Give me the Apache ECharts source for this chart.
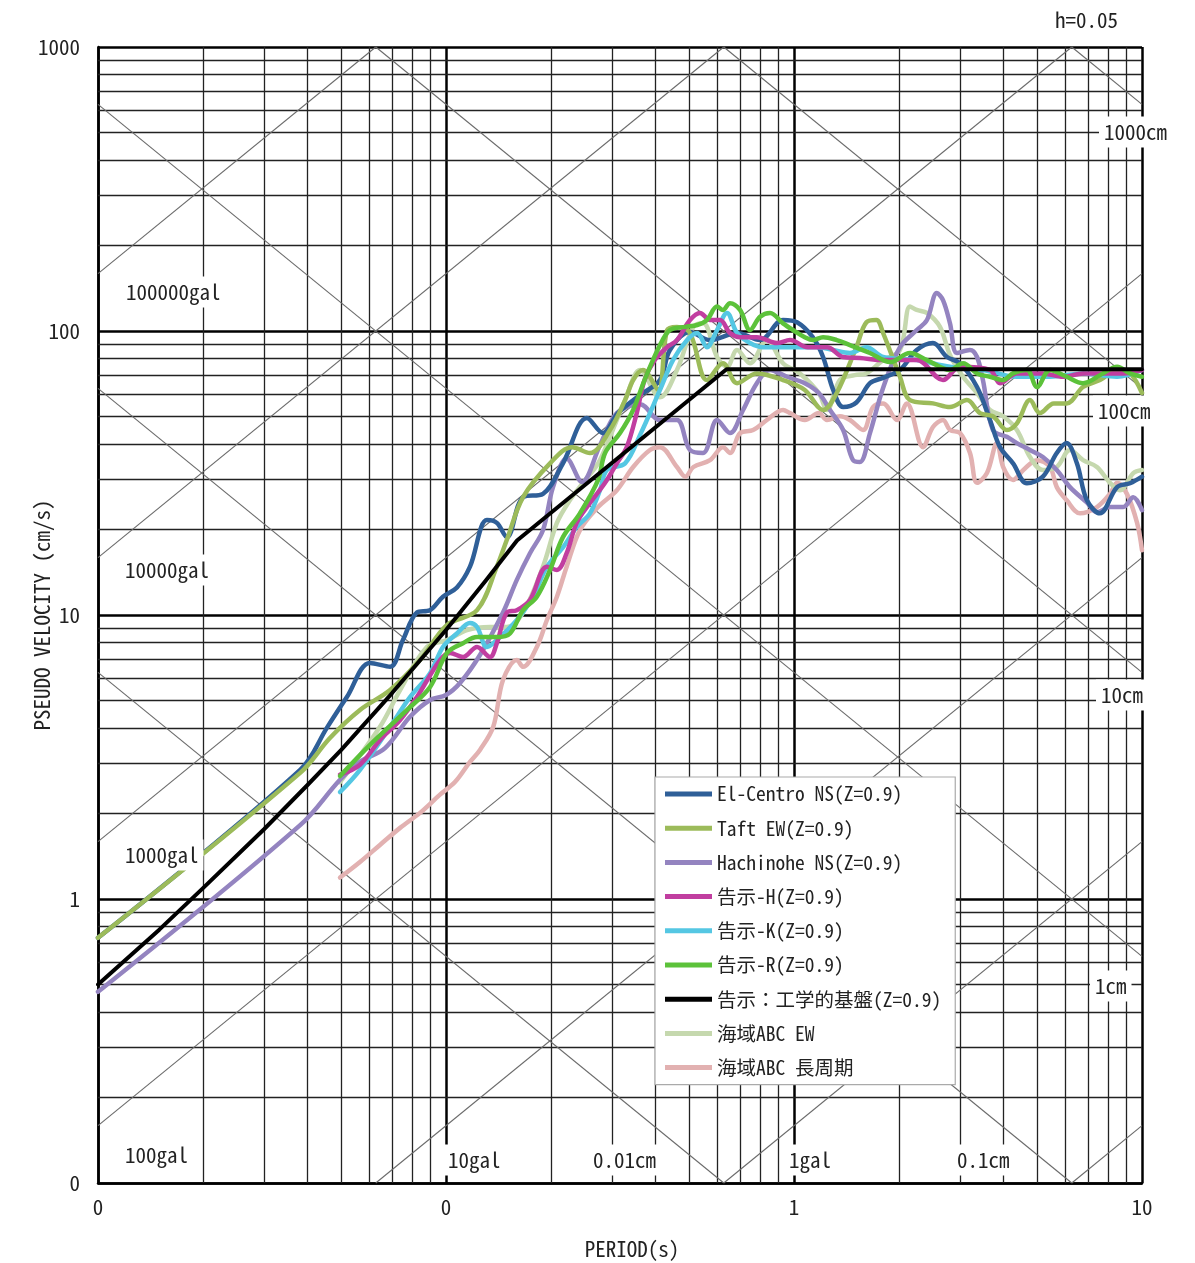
<!DOCTYPE html>
<html><head><meta charset="utf-8">
<script src="https://cdn.jsdelivr.net/npm/echarts@6/dist/echarts.min.js"></script>
<style>html,body{margin:0;padding:0;background:#fff}#c{width:1195px;height:1263px}</style>
</head><body><div id="c"></div>
<script>
// ---------- data: [period T (s), pseudo velocity (cm/s)] ----------
const xTickLabels = ['0', '0', '1', '10'];                 // at T = 0.01, 0.1, 1, 10
const yTickLabels = ['0', '1', '10', '100', '1000'];       // at 0.1 ... 1000
const accelLines = [0.1, 1, 10, 100, 1000, 10000, 100000]; // gal (tripartite grid)
const dispLines = [0.001, 0.01, 0.1, 1, 10, 100, 1000];    // cm  (tripartite grid)
const minorMult = [2, 3, 4, 5, 6, 7, 8, 9];

const elCentroNS = [[0.01,0.73],[0.0381,2.85],[0.0456,4.03],[0.0519,5.14],[0.0605,6.78],[0.0691,6.57],[0.0752,8.16],[0.0825,10.2],[0.09,10.4],[0.098,11.6],[0.1075,12.5],[0.1172,14.8],[0.1311,21.6],[0.14,21.1],[0.1496,18.8],[0.1665,26.0],[0.19,26.7],[0.2168,34.2],[0.2542,49.4],[0.2825,43.7],[0.312,51.4],[0.361,59.5],[0.412,67.2],[0.44,85.7],[0.5025,99.2],[0.5736,92.9],[0.686,98.4],[0.7986,92.9],[0.93,109.3],[1.02,107.3],[1.132,95.1],[1.212,81.0],[1.296,62.0],[1.384,54.0],[1.511,56.0],[1.653,65.5],[1.803,68.4],[2.016,72.9],[2.253,85.7],[2.508,90.7],[2.752,81.0],[2.999,77.0],[3.357,63.5],[3.657,48.6],[3.908,39.0],[4.26,34.2],[4.67,29.1],[5.19,30.7],[5.69,37.2],[6.07,40.3],[6.5,34.2],[6.94,25.4],[7.57,22.8],[8.48,28.2],[9.24,29.1],[10,30.7]];

const taftEW = [[0.01,0.73],[0.0381,2.78],[0.0464,3.69],[0.0566,4.63],[0.0691,5.44],[0.0842,6.94],[0.1007,9.22],[0.1228,10.4],[0.14,14.8],[0.1496,18.4],[0.1665,26.0],[0.199,34.2],[0.2302,39.0],[0.2592,37.2],[0.2959,44.8],[0.327,57.1],[0.345,67.2],[0.368,72.9],[0.407,62.0],[0.432,100.8],[0.461,103.4],[0.5025,98.4],[0.562,67.2],[0.625,77.0],[0.686,65.5],[0.782,70.9],[0.93,67.2],[1.074,62.0],[1.212,52.7],[1.327,60.5],[1.511,87.7],[1.615,107.3],[1.725,109.3],[1.803,98.4],[2.016,69.0],[2.154,57.1],[2.508,55.6],[2.807,54.0],[3.14,57.1],[3.423,51.4],[3.73,50.1],[4.09,44.8],[4.37,47.3],[4.766,57.1],[5.092,51.4],[5.58,55.6],[6.07,55.6],[6.77,63.5],[7.574,67.2],[8.48,72.9],[9.24,70.9],[10,60.5]];

const hachinoheNS = [[0.01,0.471],[0.0381,1.82],[0.0496,2.63],[0.0566,3.04],[0.0668,3.40],[0.0788,4.38],[0.09,5.02],[0.1,5.23],[0.1097,5.76],[0.1252,7.23],[0.1458,10.2],[0.1598,13.3],[0.1743,16.5],[0.19,19.9],[0.203,28.2],[0.2222,35.6],[0.2459,29.4],[0.277,39.6],[0.3097,51.4],[0.3609,55.2],[0.412,48.6],[0.461,48.6],[0.5025,38.1],[0.548,37.2],[0.601,48.6],[0.6548,43.7],[0.714,52.7],[0.782,65.5],[0.8533,72.9],[0.955,69.0],[1.074,65.5],[1.178,60.5],[1.269,52.7],[1.384,44.8],[1.478,35.1],[1.547,34.6],[1.653,43.7],[1.803,63.0],[2.016,87.7],[2.253,100.8],[2.41,109.3],[2.573,136],[2.68,128.5],[2.807,106.4],[2.94,83.7],[3.204,85.7],[3.357,81.0],[3.49,67.2],[3.73,44.8],[4.09,42.4],[4.37,40.3],[4.766,38.1],[5.19,36.0],[5.69,32.4],[6.21,28.2],[6.94,24.9],[7.42,23.0],[8.09,24.0],[8.83,24.0],[9.44,26.0],[10,23.4]];

const kokujiH = [[0.0496,2.74],[0.0566,2.97],[0.0646,3.63],[0.0738,4.27],[0.0825,5.14],[0.0961,6.94],[0.1027,7.35],[0.1119,7.11],[0.1228,7.72],[0.1338,7.11],[0.14,7.96],[0.1496,10.2],[0.1598,10.4],[0.1743,11.3],[0.195,14.8],[0.2083,14.4],[0.2222,16.5],[0.2374,21.1],[0.2592,24.8],[0.2865,29.2],[0.3097,34.2],[0.3307,39.0],[0.3533,51.4],[0.372,67.2],[0.398,79.0],[0.432,87.7],[0.461,92.9],[0.5025,109.3],[0.5369,115.8],[0.5736,109.3],[0.6129,109.3],[0.6548,98.4],[0.6996,95.1],[0.782,95.1],[0.893,90.7],[0.974,92.9],[1.095,87.7],[1.244,87.7],[1.384,81.0],[1.547,80.4],[1.803,79.0],[2.253,79.0],[2.68,67.2],[2.999,74.8],[3.657,72.9],[3.908,65.5],[4.37,70.9],[5.19,70.9],[5.93,69.0],[6.77,70.9],[8.83,70.9],[10,72.9]];

const kokujiK = [[0.0496,2.38],[0.0566,2.85],[0.0691,4.04],[0.0788,5.14],[0.09,6.24],[0.098,7.72],[0.1075,8.61],[0.1172,9.37],[0.1228,9.07],[0.1311,7.72],[0.14,8.16],[0.1598,9.60],[0.1779,11.6],[0.195,14.8],[0.2168,17.3],[0.2374,20.4],[0.2592,22.8],[0.277,27.5],[0.29,32.4],[0.327,34.2],[0.3609,43.0],[0.412,62.0],[0.449,79.0],[0.493,92.9],[0.527,98.4],[0.562,87.7],[0.601,100.8],[0.642,115.8],[0.686,98.4],[0.7475,90.7],[0.815,87.7],[0.93,87.7],[1.178,87.7],[1.296,85.7],[1.448,83.7],[1.615,87.7],[1.803,81.0],[2.253,79.0],[2.807,74.8],[3.49,72.9],[4.37,69.0],[5.44,69.0],[6.77,70.9],[8.48,69.0],[10,72.9]];

const kokujiR = [[0.0496,2.71],[0.0605,3.49],[0.0773,4.63],[0.09,5.58],[0.1007,7.35],[0.1119,7.96],[0.1228,8.36],[0.14,8.36],[0.1527,8.61],[0.1665,10.4],[0.1824,11.6],[0.199,14.4],[0.2168,18.8],[0.2426,22.8],[0.2736,29.9],[0.2865,37.2],[0.3162,43.7],[0.345,52.7],[0.372,67.2],[0.412,89.2],[0.4402,100.8],[0.487,103.4],[0.527,105.0],[0.562,109.3],[0.601,121.9],[0.625,118.6],[0.6548,125.3],[0.6996,118.6],[0.7475,100.8],[0.7986,112.2],[0.8533,115.8],[0.93,106.4],[0.993,100.8],[1.074,95.1],[1.132,92.9],[1.212,95.1],[1.327,92.9],[1.448,89.2],[1.653,83.7],[1.887,77.7],[2.154,83.7],[2.41,79.0],[2.807,72.9],[3.06,77.0],[3.357,70.9],[3.657,69.0],[3.99,67.2],[4.26,70.9],[4.67,72.9],[4.99,63.5],[5.44,72.9],[6.07,69.0],[6.77,65.5],[7.72,70.9],[8.48,74.8],[9.24,70.9],[10,69.0]];

const kokujiBase = [[0.01,0.50],[0.015,0.78],[0.02,1.09],[0.03,1.76],[0.04,2.52],[0.05,3.35],[0.07,5.31],[0.1,8.85],[0.13,13.2],[0.16,18.3],[0.64,73.3],[10,73.3]];

const kaiikiEW = [[0.0496,2.58],[0.0646,4.04],[0.0738,5.44],[0.0881,7.72],[0.1007,8.16],[0.1149,8.85],[0.1338,9.07],[0.1496,9.07],[0.1665,10.2],[0.19,14.8],[0.2083,21.1],[0.2271,25.4],[0.2475,29.2],[0.2736,34.2],[0.2959,42.4],[0.327,57.1],[0.3609,72.9],[0.412,58.4],[0.461,72.9],[0.514,103.4],[0.548,106.4],[0.601,81.0],[0.642,74.8],[0.686,85.7],[0.7475,77.0],[0.836,92.9],[0.93,77.0],[1.04,70.9],[1.178,60.5],[1.244,52.7],[1.355,67.2],[1.495,69.9],[1.615,70.9],[1.803,79.0],[2.016,85.7],[2.154,121.9],[2.253,118.6],[2.41,115.8],[2.627,103.4],[2.807,82.3],[3.06,69.0],[3.357,60.5],[3.657,52.7],[3.99,50.1],[4.37,44.8],[4.766,36.0],[5.19,32.4],[5.69,33.2],[6.21,38.1],[6.77,35.1],[7.42,33.2],[8.09,29.2],[8.646,27.5],[9.44,31.6],[10,32.4]];

const kaiikiLong = [[0.0496,1.19],[0.0566,1.35],[0.0646,1.55],[0.0738,1.78],[0.0842,2.01],[0.0961,2.33],[0.1061,2.58],[0.1172,3.04],[0.1252,3.35],[0.1367,4.04],[0.1458,5.90],[0.1598,6.94],[0.1665,6.57],[0.1824,7.72],[0.195,9.60],[0.2083,11.6],[0.2222,14.8],[0.2426,19.9],[0.2736,24.0],[0.3097,27.5],[0.345,33.2],[0.3856,38.1],[0.412,39.0],[0.461,33.2],[0.487,30.7],[0.514,33.2],[0.5736,35.1],[0.625,39.0],[0.6548,37.2],[0.6996,43.7],[0.763,44.8],[0.836,48.6],[0.93,52.7],[0.974,51.4],[1.074,48.6],[1.178,51.4],[1.244,48.6],[1.355,50.1],[1.448,48.6],[1.579,44.8],[1.687,54.0],[1.803,55.6],[1.977,48.6],[2.11,55.6],[2.35,39.0],[2.508,45.9],[2.68,48.6],[2.807,44.8],[2.999,43.7],[3.204,37.2],[3.357,29.2],[3.585,31.6],[3.83,40.3],[3.99,33.2],[4.26,29.9],[4.56,32.4],[4.99,35.1],[5.44,33.2],[5.69,28.2],[6.07,25.4],[6.635,22.8],[7.42,24.0],[8.09,26.7],[8.48,29.2],[9.05,26.7],[9.68,21.1],[10,16.9]];

const seriesNames = ['El-Centro NS(Z=0.9)','Taft EW(Z=0.9)','Hachinohe NS(Z=0.9)','告示-H(Z=0.9)','告示-K(Z=0.9)','告示-R(Z=0.9)','告示：工学的基盤(Z=0.9)','海域ABC EW','海域ABC 長周期'];

// ---------- layout / styles ----------
const FONT = '"Noto Sans Mono CJK JP","Noto Sans CJK JP","DejaVu Sans Mono",monospace';
const TXT = '#222';
const gridLabels = [
  {t:'100000gal', x:126, y:292}, {t:'10000gal', x:125, y:570}, {t:'1000gal', x:125, y:855}, {t:'100gal', x:125, y:1155},
  {t:'10gal', x:448, y:1160}, {t:'0.01cm', x:593, y:1160}, {t:'1gal', x:789, y:1160}, {t:'0.1cm', x:957, y:1160},
  {t:'1000cm', x:1104, y:132}, {t:'100cm', x:1098, y:411}, {t:'10cm', x:1101, y:695}, {t:'1cm', x:1095, y:986}
];

const TMIN = 0.01, TMAX = 10, VMIN = 0.1, VMAX = 1000;
function clipSeg(c, s) { // PSV = c * T^s
  let t1, t2;
  if (s > 0) { t1 = Math.max(TMIN, VMIN / c); t2 = Math.min(TMAX, VMAX / c); }
  else { t1 = Math.max(TMIN, c / VMAX); t2 = Math.min(TMAX, c / VMIN); }
  if (!(t1 < t2)) return null;
  const v = t => s > 0 ? c * t : c / t;
  return [{coord:[t1, v(t1)]}, {coord:[t2, v(t2)]}];
}
const diag = [];
accelLines.forEach(a => { const g = clipSeg(a / (2 * Math.PI), 1); if (g) diag.push(g); });
dispLines.forEach(d => { const g = clipSeg(2 * Math.PI * d, -1); if (g) diag.push(g); });

const minorX = [], minorY = [];
[0.01, 0.1, 1].forEach(b => minorMult.forEach(m => minorX.push({xAxis: +(b * m).toPrecision(3)})));
[0.1, 1, 10, 100].forEach(b => minorMult.forEach(m => minorY.push({yAxis: +(b * m).toPrecision(3)})));

function mk(name, data, color, width, z, smooth) {
  return {name, type:'line', data, symbol:'none', showSymbol:false, smooth: smooth === false ? false : 0.35,
    lineStyle:{color, width, cap:'round', join:'round'}, itemStyle:{color}, z, silent:true, animation:false};
}

const chart = echarts.init(document.getElementById('c'), null, {renderer:'canvas'});
const option = {
  animation:false,
  backgroundColor:'#fff',
  grid:{left:98, right:53, top:47, bottom:80, containLabel:false, outerBoundsMode:'none'},
  xAxis:{type:'log', logBase:10, min:TMIN, max:TMAX,
    name:'PERIOD(s)', nameLocation:'middle', nameGap:56, nameMoveOverlap:false,
    nameTextStyle:{fontFamily:FONT, fontSize:21, color:TXT, padding:[0,0,0,24]},
    axisLine:{show:true, lineStyle:{color:'#000', width:2.5}}, axisTick:{show:false},
    axisLabel:{margin:14, fontFamily:FONT, fontSize:21, color:TXT, showMinLabel:true, showMaxLabel:true,
      formatter: v => xTickLabels[Math.round(Math.log10(v)) + 2]},
    splitLine:{show:true, lineStyle:{color:'#000', width:2.5}}},
  yAxis:{type:'log', logBase:10, min:VMIN, max:VMAX,
    name:'PSEUDO VELOCITY (cm/s)', nameLocation:'middle', nameGap:45, nameRotate:90, nameMoveOverlap:false,
    nameTextStyle:{fontFamily:FONT, fontSize:21, color:TXT},
    axisLine:{show:true, lineStyle:{color:'#000', width:2.5}}, axisTick:{show:false},
    axisLabel:{margin:18, fontFamily:FONT, fontSize:21, color:TXT, showMinLabel:true, showMaxLabel:true,
      formatter: v => yTickLabels[Math.round(Math.log10(v)) + 1]},
    splitLine:{show:true, lineStyle:{color:'#000', width:2.5}}},
  legend:{data:seriesNames, orient:'vertical', left:655, top:777, padding:[7,14,7,10], z:20,
    icon:'rect', itemWidth:47, itemHeight:5, itemGap:14.2, selectedMode:false,
    backgroundColor:'#fff', borderColor:'#aaa', borderWidth:1.2,
    textStyle:{fontFamily:FONT, fontSize:19.5, color:TXT, lineHeight:20}},
  graphic: gridLabels.map(l => ({type:'text', x:l.x - 5, y:l.y, z:100, silent:true,
      style:{text:l.t, font:'21px ' + FONT, fill:TXT, backgroundColor:'#fff', padding:[5,5],
        align:'left', verticalAlign:'middle'}}))
    .concat([{type:'text', x:1055, y:20, z:100, silent:true,
      style:{text:'h=0.05', font:'21px ' + FONT, fill:TXT, align:'left', verticalAlign:'middle'}}]),
  series:[
    {type:'line', data:[], silent:true, z:1, animation:false,
      markLine:{silent:true, z:1, symbol:['none','none'], label:{show:false}, animation:false,
        lineStyle:{color:'#222', width:1.3, type:'solid'}, emphasis:{disabled:true},
        data: minorX.concat(minorY)}},
    {type:'line', data:[], silent:true, z:1, animation:false,
      markLine:{silent:true, z:1, symbol:['none','none'], label:{show:false}, animation:false,
        lineStyle:{color:'#6a6a6a', width:1.1, type:'solid'}, emphasis:{disabled:true},
        data: diag}},
    mk(seriesNames[8], kaiikiLong, '#e2b1b1', 4.5, 3),
    mk(seriesNames[7], kaiikiEW, '#c5d8ae', 4.5, 3),
    mk(seriesNames[2], hachinoheNS, '#9484c0', 4.5, 3),
    mk(seriesNames[0], elCentroNS, '#2f5f98', 4.5, 3),
    mk(seriesNames[1], taftEW, '#9cbb5a', 4.5, 3),
    mk(seriesNames[4], kokujiK, '#55c7e3', 4.5, 3),
    mk(seriesNames[3], kokujiH, '#c13ea0', 4.5, 3),
    mk(seriesNames[5], kokujiR, '#5cc23a', 4.5, 3),
    mk(seriesNames[6], kokujiBase, '#000000', 4, 3, false)
  ]
};
chart.setOption(option);
</script>
</body></html>
